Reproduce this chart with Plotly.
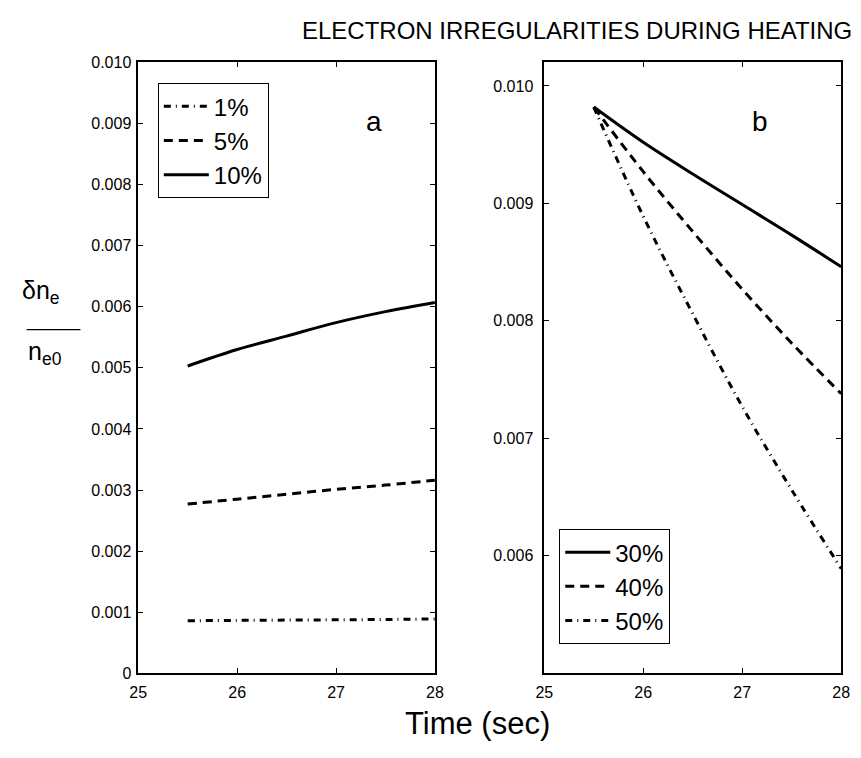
import plotly.graph_objects as go

# ---- data ----
time = [25.5, 26.0, 26.5, 27.0, 27.5, 28.0]

# panel a
a_1 = [0.00086, 0.000865, 0.00087, 0.000875, 0.00088, 0.00089]
a_5 = [0.00277, 0.00285, 0.00293, 0.00301, 0.00308, 0.00316]
a_10 = [0.00503, 0.00530, 0.00552, 0.00574, 0.00592, 0.00607]

# panel b
b_30 = [0.00982, 0.00952, 0.00925, 0.00899, 0.00873, 0.00846]
b_40 = [0.00982, 0.00927, 0.00876, 0.00827, 0.00781, 0.00738]
b_50 = [0.00982, 0.00889, 0.00806, 0.00727, 0.00656, 0.00589]

x_ticks = [25, 26, 27, 28]
ya_ticks = [0, 0.001, 0.002, 0.003, 0.004, 0.005, 0.006, 0.007, 0.008, 0.009, 0.010]
ya_labels = ["0", "0.001", "0.002", "0.003", "0.004", "0.005", "0.006", "0.007", "0.008", "0.009", "0.010"]
yb_ticks = [0.006, 0.007, 0.008, 0.009, 0.010]
yb_labels = ["0.006", "0.007", "0.008", "0.009", "0.010"]

FONT = "Arial, Liberation Sans, sans-serif"
DASHDOT = "7px,5px,1px,5px"
DASH = "9px,6px"

fig = go.Figure()

def add(x, y, name, dash, xa, ya, leg):
    fig.add_trace(go.Scatter(x=x, y=y, name=name, mode="lines",
                             line=dict(color="black", width=3, dash=dash, shape="spline"),
                             xaxis=xa, yaxis=ya, legend=leg))

add(time, a_1, "1%", DASHDOT, "x", "y", "legend")
add(time, a_5, "5%", DASH, "x", "y", "legend")
add(time, a_10, "10%", "solid", "x", "y", "legend")
add(time, b_30, "30%", "solid", "x2", "y2", "legend2")
add(time, b_40, "40%", DASH, "x2", "y2", "legend2")
add(time, b_50, "50%", DASHDOT, "x2", "y2", "legend2")

ax_common = dict(showgrid=False, zeroline=False, showline=True, linecolor="black",
                 linewidth=1.5, mirror="ticks", ticks="inside", ticklen=5,
                 tickcolor="black", tickfont=dict(family=FONT, size=16, color="black"))

ydom = [1 - 680.5 / 758, 1 - 55.7 / 758]
leg_common = dict(xanchor="left", yanchor="top", bordercolor="black", borderwidth=1,
                  bgcolor="white", font=dict(family=FONT, size=24, color="black"),
                  tracegroupgap=0, itemwidth=45)
fig.update_layout(
    width=861, height=758,
    margin=dict(l=0, r=0, t=0, b=0),
    paper_bgcolor="white", plot_bgcolor="white",
    font=dict(family=FONT, color="black"),
    xaxis=dict(domain=[132 / 861, 435 / 861], range=[25, 28], tickvals=x_ticks,
               ticktext=[str(v) for v in x_ticks], anchor="y", ticklabelstandoff=4, **ax_common),
    yaxis=dict(domain=ydom, range=[0, 0.010], tickvals=ya_ticks, ticktext=ya_labels,
               anchor="x", ticklabelstandoff=2, **ax_common),
    xaxis2=dict(domain=[546.7 / 861, 850 / 861], range=[25, 28], tickvals=x_ticks,
                ticktext=[str(v) for v in x_ticks], anchor="y2", ticklabelstandoff=4, **ax_common),
    yaxis2=dict(domain=ydom, range=[0.005, 0.0102], tickvals=yb_ticks, ticktext=yb_labels,
                anchor="x2", ticklabelstandoff=6, **ax_common),
    legend=dict(x=152 / 861, y=1 - 77 / 758, **leg_common),
    legend2=dict(x=562 / 861, y=1 - 533 / 758, **leg_common),
    showlegend=True,
)

anns = [
    dict(text="ELECTRON IRREGULARITIES DURING HEATING", x=580 / 861, y=1 - 23 / 758,
         font=dict(size=24)),
    dict(text="Time (sec)", x=479 / 861, y=1 - 732 / 758, font=dict(size=31)),
    dict(text="a", x=373 / 861, y=1 - 116 / 758, font=dict(size=28)),
    dict(text="b", x=767 / 861, y=1 - 116 / 758, font=dict(size=28)),
    dict(text="δn<sub>e</sub>", x=33 / 861, y=1 - 291 / 758, font=dict(size=25)),
    dict(text="n<sub>e0</sub>", x=37 / 861, y=1 - 353 / 758, font=dict(size=25)),
]
for a in anns:
    a.update(xref="paper", yref="paper", showarrow=False, xanchor="center", yanchor="middle")
    a["font"].update(family=FONT, color="black")
    fig.add_annotation(**a)

fig.add_shape(type="line", xref="paper", yref="paper",
              x0=18 / 861, x1=73 / 861, y0=1 - 329 / 758, y1=1 - 329 / 758,
              line=dict(color="black", width=1.2))

fig.write_html("out.html")
